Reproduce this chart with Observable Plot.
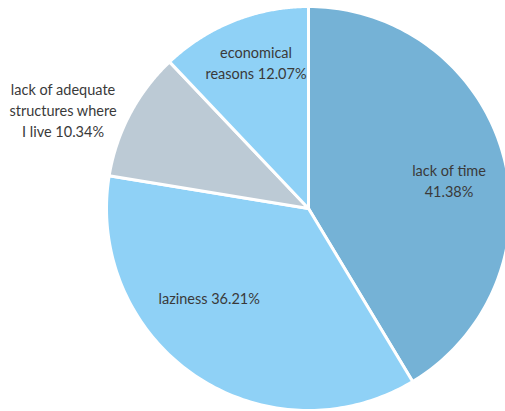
<!DOCTYPE html>
<html>
<head>
<meta charset="utf-8">
<script src="https://cdn.jsdelivr.net/npm/d3@7"></script>
<script src="https://cdn.jsdelivr.net/npm/@observablehq/plot@0.6"></script>
<style>
  html, body { margin: 0; padding: 0; background: #fff; }
  #chart svg { display: block; }
</style>
</head>
<body>
<div id="chart"></div>
<script>
// Data
const categories = ["lack of time", "laziness", "lack of adequate structures where I live", "economical reasons"];
const labelTexts = ["lack of time\n41.38%", "laziness 36.21%", "lack of adequate\nstructures where\nI live 10.34%", "economical\nreasons 12.07%"];
const values = [41.38, 36.21, 10.34, 12.07];
const colors = ["#75b2d6", "#8fd1f6", "#bccad5", "#8fd1f6"];

// label placement (style): radius factor and angular nudge in degrees
const labelRadius = [0.71, 0.66, 1.31, 0.77];
const labelNudge = [4, 14, -6, 2];

const pie = d3.pie().sort(null).value(d => d)(values);

const polys = [];
pie.forEach((p, i) => {
  const n = 120;
  polys.push({k: i, x: 0, y: 0});
  for (let j = 0; j <= n; j++) {
    const a = p.startAngle + (p.endAngle - p.startAngle) * j / n;
    polys.push({k: i, x: Math.sin(a), y: Math.cos(a)});
  }
  polys.push({k: i, x: 0, y: 0});
});

const labels = pie.map((p, i) => {
  const a = (p.startAngle + p.endAngle) / 2 + labelNudge[i] * Math.PI / 180;
  return {text: labelTexts[i], x: labelRadius[i] * Math.sin(a), y: labelRadius[i] * Math.cos(a)};
});

const chart = Plot.plot({
  width: 505,
  height: 411,
  margin: 0,
  x: {domain: [-1, 1], range: [106, 510], axis: null},
  y: {domain: [-1, 1], range: [410, 6], axis: null},
  style: {fontFamily: "Lato, 'Open Sans', sans-serif", background: "#fff"},
  marks: [
    Plot.line(polys, {
      x: "x", y: "y", z: "k",
      fill: d => colors[d.k],
      stroke: "#ffffff", strokeWidth: 3, strokeLinejoin: "round", curve: "linear"
    }),
    Plot.text(labels, {
      x: "x", y: "y", text: "text",
      fill: "#3a3a3a", fontSize: 14.5, lineHeight: 1.45, textAnchor: "middle"
    })
  ]
});
document.getElementById("chart").appendChild(chart);
</script>
</body>
</html>
